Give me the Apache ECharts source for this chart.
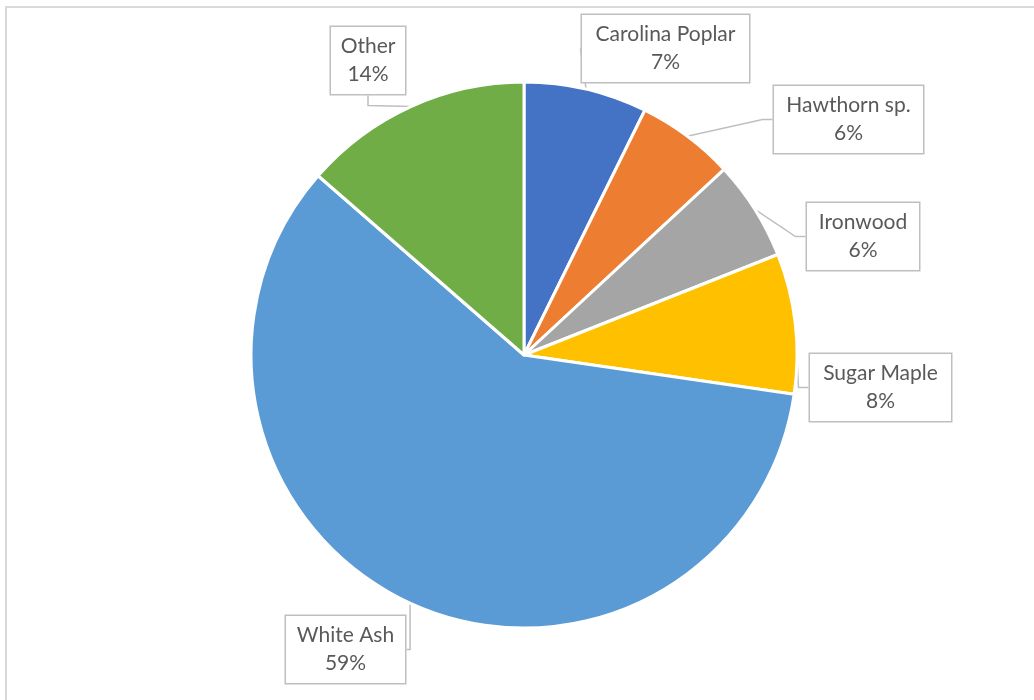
<!DOCTYPE html>
<html><head><meta charset="utf-8">
<script src="https://cdn.jsdelivr.net/npm/echarts@6/dist/echarts.min.js"></script>
<style>html,body{margin:0;padding:0;background:#fff;}#c{width:1034px;height:700px;}</style>
</head><body><div id="c"></div>
<script>
const categories = ['Carolina Poplar','Hawthorn sp.','Ironwood','Sugar Maple','White Ash','Other'];
const values = [7.3, 5.8, 5.9, 8.3, 59.1, 13.6];
const colors = ['#4472C4','#ED7D31','#A5A5A5','#FFC000','#5B9BD5','#70AD47'];
// label box centers and widths (layout)
const labelPos = [[665.5,48.5],[848.5,119.5],[863,236.5],[880.5,387.5],[345.5,649.5],[368,60.5]];
const labelW = [167,149,112,141,119,74];

const chart = echarts.init(document.getElementById('c'));
chart.setOption({
  animation:false,
  graphic:[{type:'rect',shape:{x:6,y:7,width:1100,height:800},style:{fill:'none',stroke:'#d9d9d9',lineWidth:2},silent:true}],
  series:[{
    type:'pie',
    center:[524,355],
    radius:273,
    startAngle:90,
    clockwise:true,
    data: categories.map((n,i)=>({name:n,value:values[i],itemStyle:{color:colors[i]},
      label:{width:labelW[i]}})),
    itemStyle:{borderColor:'#fff',borderWidth:3},
    label:{
      show:true,
      formatter:p=>p.name+'\n'+Math.round(p.percent)+'%',
      fontFamily:'Lato',
      fontSize:21,
      lineHeight:28,
      color:'#595959',
      backgroundColor:'#fff',
      borderColor:'#bfbfbf',
      borderWidth:1.5,
      padding:[8,0,3,0],
      align:'center'
    },
    labelLine:{show:true,length:10,length2:10,lineStyle:{color:'#bfbfbf',width:1.5}},
    labelLayout:function(params){
      const p = labelPos[params.dataIndex];
      return {x:p[0],y:p[1],align:'center',verticalAlign:'middle'};
    }
  }]
});
</script></body></html>
